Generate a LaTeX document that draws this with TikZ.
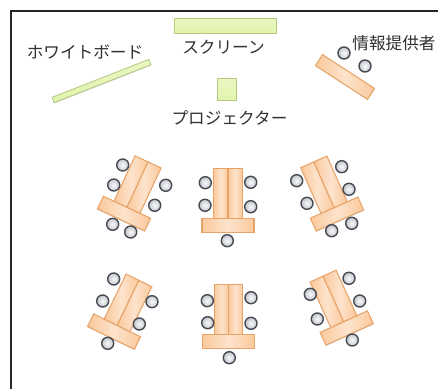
\documentclass[tikz,border=0pt]{standalone}
\usepackage{fontspec}
\usepackage{tikz}
\usetikzlibrary{shadows}
\newfontfamily\jpfont{Noto Sans CJK JP}
\definecolor{boardfill}{HTML}{E2F4AE}
\definecolor{boardline}{HTML}{B4C880}
\definecolor{deskfill}{HTML}{FAC99C}
\definecolor{deskmid}{HTML}{FDE3CC}
\definecolor{deskline}{HTML}{E8A468}
\definecolor{seatline}{HTML}{484B52}
\definecolor{seatfill}{HTML}{C4C7CF}
\definecolor{labelcol}{HTML}{303030}
\tikzset{
  softshadow/.style={drop shadow={shadow xshift=0.3pt, shadow yshift=-0.7pt, opacity=0.3}},
  boardbox/.style={draw=boardline, line width=0.7pt, top color=boardfill!75!white, bottom color=boardfill,
    inner sep=0, outer sep=0, softshadow},
  deskbox/.style={draw=deskline, line width=0.9pt, left color=deskfill, right color=deskfill,
    middle color=deskmid, inner sep=0, outer sep=0},
  headbox/.style={deskbox, minimum width=1.56cm, minimum height=0.42cm, softshadow},
  stripbox/.style={deskbox, minimum width=0.43cm, minimum height=1.5cm},
  seatdot/.style={circle, draw=seatline, line width=1.2pt, inner color=white!90!seatfill, outer color=seatfill,
    minimum size=0.36cm, inner sep=0},
  roomlabel/.style={font=\jpfont\fontsize{14.2}{16}\selectfont, text=labelcol, inner sep=0}
}

\begin{document}
\begin{tikzpicture}[x=0.03cm, y=-0.03cm]
  \useasboundingbox (0, 0) rectangle (438, 389);

  \coordinate (frameA) at (11, 389);
  \coordinate (frameB) at (11, 11);
  \coordinate (frameC) at (438, 11);
  \draw[line width=1.7pt, black!85] (frameA) -- (frameB) -- (frameC);

  \node[boardbox, minimum width=3.06cm, minimum height=0.45cm]
    (screen) at (225, 25.5) {};
  \node[boardbox, minimum width=0.57cm, minimum height=0.66cm]
    (projector) at (226.5, 89) {};
  \node[boardbox, minimum width=3.12cm, minimum height=0.17cm, rotate=21.4]
    (whiteboard) at (101.5, 81) {};

  \node[roomlabel] (whiteboardtext) at (85, 52) {ホワイトボード};
  \node[roomlabel] (screentext) at (223.5, 47) {スクリーン};
  \node[roomlabel] (projectortext) at (229.5, 118) {プロジェクター};
  \node[roomlabel] (infotext) at (394, 43) {情報提供者};

  \node[headbox, minimum width=1.86cm, minimum height=0.39cm, rotate=-33]
    (infodesk) at (345, 77) {};

  % desks: head bar, then two strips standing on it
  \foreach \name/\x/\y/\ang in {
    deskA/124/213.6/-25, deskB/228/225.5/0, deskC/337/214/24,
    deskD/114/331.6/-26, deskE/228.5/341.5/0, deskF/346.7/328/24.5}
  {
    \node[headbox, rotate=\ang] (\name) at (\x, \y) {};
    \node[stripbox, rotate=\ang, anchor=south east] (\name left) at (\name.north) {};
    \node[stripbox, rotate=\ang, anchor=south west] (\name right) at (\name.north) {};
  }

  \foreach \i/\x/\y in {
    1/344/53, 2/365/66,
    3/122.7/165, 4/113.7/185, 5/165.7/185.3, 6/154.7/205.3, 7/112.7/224.3, 8/130.7/232,
    9/205.3/182.7, 10/205/205.3, 11/250.7/182.3, 12/250.7/206.7, 13/227.3/240.7,
    14/341.7/166.7, 15/349/189.3, 16/296.7/180.7, 17/307/203.3, 18/351.7/223.3, 19/331.7/230.7,
    20/113.7/279, 21/102.7/301, 22/152/301.7, 23/139.3/324, 24/107.7/343.3,
    25/207.3/300.7, 26/207.7/322.7, 27/229.3/357.7, 28/251/297.7, 29/251/323.3,
    30/349/278.3, 31/359.7/301, 32/310.3/294.3, 33/317.3/319, 34/352.3/340}
  {
    \node[seatdot] (seat\i) at (\x, \y) {};
  }
\end{tikzpicture}
\end{document}
